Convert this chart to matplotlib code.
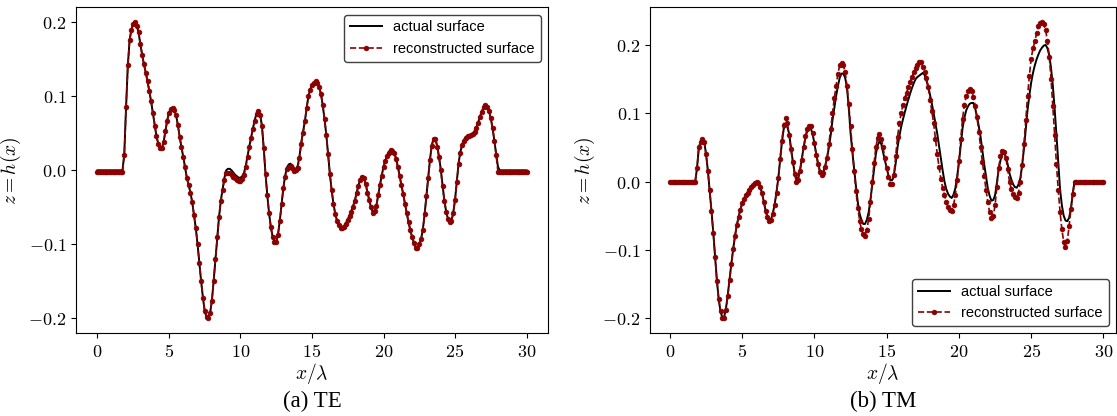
import numpy as np
import matplotlib
matplotlib.use("Agg")
import matplotlib.pyplot as plt
from matplotlib.ticker import FuncFormatter

plt.rcParams["mathtext.fontset"] = "cm"

# sample positions x/lambda (uniform grid, step 1/8)
x_grid = np.arange(0, 30.0001, 0.125)

# one row per unit of x: values at k, k+1/8, ..., k+7/8
te_actual = [
    0, 0, 0, 0, 0, 0, 0, 0,
    0, 0, 0, 0, 0, 0, 0, 0.022,
    0.085, 0.142, 0.176, 0.19, 0.198, 0.2, 0.195, 0.186,
    0.17, 0.156, 0.143, 0.132, 0.12, 0.107, 0.093, 0.077,
    0.06, 0.046, 0.036, 0.03, 0.03, 0.038, 0.053, 0.067,
    0.078, 0.083, 0.084, 0.081, 0.074, 0.061, 0.045, 0.031,
    0.018, 0.004, -0.01, -0.02, -0.03, -0.043, -0.06, -0.078,
    -0.1, -0.125, -0.15, -0.172, -0.19, -0.198, -0.2, -0.193,
    -0.176, -0.149, -0.12, -0.09, -0.063, -0.041, -0.025, -0.01,
    0.0, 0.002, 0.002, 0.0, -0.003, -0.006, -0.008, -0.01,
    -0.01, -0.008, -0.003, 0.007, 0.02, 0.033, 0.045, 0.057,
    0.068, 0.077, 0.081, 0.075, 0.06, 0.03, -0.005, -0.034,
    -0.058, -0.077, -0.09, -0.096, -0.096, -0.086, -0.068, -0.046,
    -0.023, -0.007, 0.004, 0.008, 0.009, 0.005, 0.002, 0.002,
    0.006, 0.019, 0.038, 0.052, 0.066, 0.084, 0.1, 0.109,
    0.115, 0.118, 0.12, 0.118, 0.113, 0.103, 0.088, 0.069,
    0.048, 0.022, -0.005, -0.027, -0.045, -0.059, -0.068, -0.074,
    -0.077, -0.077, -0.075, -0.071, -0.066, -0.061, -0.055, -0.048,
    -0.04, -0.03, -0.02, -0.012, -0.008, -0.01, -0.018, -0.029,
    -0.04, -0.05, -0.057, -0.055, -0.048, -0.034, -0.02, -0.007,
    0.005, 0.013, 0.02, 0.025, 0.028, 0.027, 0.024, 0.016,
    0.005, -0.007, -0.02, -0.032, -0.045, -0.058, -0.07, -0.081,
    -0.09, -0.098, -0.104, -0.104, -0.1, -0.093, -0.08, -0.059,
    -0.035, -0.01, 0.015, 0.034, 0.043, 0.043, 0.033, 0.019,
    0.002, -0.02, -0.04, -0.055, -0.065, -0.069, -0.068, -0.057,
    -0.04, -0.015, 0.01, 0.025, 0.035, 0.041, 0.045, 0.047,
    0.047, 0.048, 0.05, 0.053, 0.058, 0.065, 0.073, 0.08,
    0.085, 0.088, 0.086, 0.08, 0.07, 0.057, 0.04, 0.022,
    0.005, 0, 0, 0, 0, 0, 0, 0,
    0, 0, 0, 0, 0, 0, 0, 0,
    0,
]

te_recon = [
    -0.002, -0.002, -0.002, -0.002, -0.002, -0.002, -0.002, -0.002,
    -0.002, -0.002, -0.002, -0.002, -0.002, -0.002, -0.002, 0.02,
    0.085, 0.142, 0.176, 0.19, 0.198, 0.2, 0.195, 0.186,
    0.17, 0.156, 0.143, 0.132, 0.12, 0.107, 0.093, 0.077,
    0.06, 0.046, 0.036, 0.03, 0.03, 0.038, 0.053, 0.067,
    0.078, 0.083, 0.084, 0.081, 0.074, 0.061, 0.045, 0.031,
    0.018, 0.004, -0.01, -0.02, -0.03, -0.043, -0.06, -0.078,
    -0.1, -0.125, -0.15, -0.172, -0.19, -0.198, -0.2, -0.193,
    -0.176, -0.149, -0.12, -0.09, -0.063, -0.042, -0.027, -0.013,
    -0.004, -0.004, -0.004, -0.006, -0.009, -0.011, -0.013, -0.015,
    -0.015, -0.012, -0.006, 0.004, 0.018, 0.032, 0.044, 0.056,
    0.067, 0.076, 0.08, 0.075, 0.06, 0.03, -0.005, -0.034,
    -0.058, -0.077, -0.09, -0.097, -0.097, -0.087, -0.068, -0.046,
    -0.024, -0.009, 0.002, 0.005, 0.006, 0.003, -0.001, 0.0,
    0.003, 0.017, 0.036, 0.051, 0.066, 0.084, 0.1, 0.109,
    0.115, 0.118, 0.12, 0.118, 0.113, 0.103, 0.088, 0.069,
    0.048, 0.022, -0.005, -0.027, -0.045, -0.059, -0.068, -0.074,
    -0.078, -0.078, -0.076, -0.072, -0.067, -0.062, -0.056, -0.049,
    -0.041, -0.031, -0.021, -0.013, -0.009, -0.011, -0.019, -0.03,
    -0.04, -0.05, -0.057, -0.055, -0.048, -0.034, -0.02, -0.008,
    0.004, 0.012, 0.019, 0.024, 0.027, 0.026, 0.023, 0.015,
    0.004, -0.008, -0.02, -0.032, -0.045, -0.058, -0.07, -0.081,
    -0.09, -0.098, -0.105, -0.105, -0.1, -0.093, -0.08, -0.059,
    -0.035, -0.011, 0.014, 0.033, 0.042, 0.042, 0.032, 0.018,
    0.001, -0.021, -0.041, -0.056, -0.066, -0.07, -0.069, -0.058,
    -0.04, -0.016, 0.009, 0.024, 0.034, 0.04, 0.044, 0.046,
    0.046, 0.047, 0.049, 0.052, 0.057, 0.064, 0.072, 0.079,
    0.085, 0.088, 0.086, 0.08, 0.07, 0.057, 0.04, 0.02,
    -0.002, -0.002, -0.002, -0.002, -0.002, -0.002, -0.002, -0.002,
    -0.002, -0.002, -0.002, -0.002, -0.002, -0.002, -0.002, -0.002,
    -0.002,
]

tm_actual = [
    0, 0, 0, 0, 0, 0, 0, 0,
    0, 0, 0, 0, 0, 0, 0, 0.02,
    0.05, 0.058, 0.062, 0.058, 0.04, 0.016, -0.013, -0.043,
    -0.075, -0.111, -0.145, -0.172, -0.19, -0.199, -0.198, -0.186,
    -0.166, -0.143, -0.12, -0.099, -0.08, -0.064, -0.052, -0.041,
    -0.032, -0.025, -0.02, -0.016, -0.012, -0.008, -0.005, -0.002,
    0.0, -0.002, -0.008, -0.017, -0.03, -0.043, -0.052, -0.057,
    -0.055, -0.046, -0.033, -0.015, 0.005, 0.032, 0.058, 0.077,
    0.084, 0.08, 0.07, 0.05, 0.03, 0.014, 0.004, 0.006,
    0.017, 0.033, 0.05, 0.064, 0.074, 0.079, 0.078, 0.069,
    0.056, 0.04, 0.027, 0.016, 0.012, 0.015, 0.024, 0.035,
    0.05, 0.068, 0.09, 0.108, 0.125, 0.14, 0.152, 0.158,
    0.158, 0.152, 0.138, 0.108, 0.071, 0.043, 0.018, -0.007,
    -0.03, -0.047, -0.056, -0.062, -0.062, -0.056, -0.045, -0.027,
    -0.005, 0.018, 0.04, 0.053, 0.059, 0.055, 0.043, 0.031,
    0.02, 0.009, 0.002, 0.002, 0.01, 0.027, 0.05, 0.066,
    0.08, 0.091, 0.101, 0.111, 0.12, 0.129, 0.137, 0.144,
    0.15, 0.153, 0.155, 0.157, 0.159, 0.156, 0.148, 0.139,
    0.127, 0.114, 0.1, 0.085, 0.07, 0.052, 0.034, 0.016,
    0.0, -0.011, -0.018, -0.022, -0.024, -0.019, -0.01, 0.007,
    0.028, 0.053, 0.078, 0.093, 0.104, 0.11, 0.114, 0.115,
    0.115, 0.107, 0.095, 0.081, 0.065, 0.045, 0.025, 0.007,
    -0.01, -0.021, -0.028, -0.027, -0.02, -0.002, 0.018, 0.031,
    0.04, 0.041, 0.036, 0.025, 0.012, 0.003, -0.004, -0.008,
    -0.009, -0.004, 0.005, 0.024, 0.048, 0.076, 0.105, 0.126,
    0.145, 0.159, 0.17, 0.179, 0.186, 0.192, 0.196, 0.199,
    0.2, 0.195, 0.185, 0.166, 0.14, 0.106, 0.068, 0.027,
    -0.012, -0.035, -0.05, -0.057, -0.058, -0.053, -0.04, -0.018,
    0.0, 0, 0, 0, 0, 0, 0, 0,
    0, 0, 0, 0, 0, 0, 0, 0,
    0,
]

tm_recon = [
    0, 0, 0, 0, 0, 0, 0, 0,
    0, 0, 0, 0, 0, 0, 0, 0.02,
    0.05, 0.058, 0.062, 0.058, 0.04, 0.016, -0.013, -0.043,
    -0.075, -0.111, -0.145, -0.172, -0.19, -0.2, -0.199, -0.188,
    -0.168, -0.144, -0.121, -0.099, -0.08, -0.064, -0.052, -0.041,
    -0.032, -0.025, -0.02, -0.016, -0.012, -0.008, -0.005, -0.002,
    0.0, -0.002, -0.008, -0.017, -0.03, -0.043, -0.052, -0.058,
    -0.056, -0.047, -0.034, -0.016, 0.005, 0.033, 0.06, 0.083,
    0.093, 0.086, 0.068, 0.047, 0.028, 0.011, 0.0, 0.003,
    0.015, 0.032, 0.05, 0.066, 0.077, 0.082, 0.081, 0.071,
    0.056, 0.039, 0.025, 0.014, 0.01, 0.013, 0.022, 0.035,
    0.055, 0.077, 0.1, 0.122, 0.14, 0.158, 0.17, 0.173,
    0.17, 0.16, 0.14, 0.113, 0.081, 0.047, 0.015, -0.014,
    -0.038, -0.057, -0.07, -0.077, -0.079, -0.071, -0.055, -0.03,
    0.0, 0.027, 0.05, 0.064, 0.07, 0.063, 0.05, 0.034,
    0.02, 0.006, -0.003, -0.004, 0.01, 0.037, 0.065, 0.085,
    0.1, 0.112, 0.122, 0.13, 0.138, 0.146, 0.153, 0.16,
    0.166, 0.171, 0.175, 0.175, 0.168, 0.161, 0.152, 0.138,
    0.12, 0.103, 0.085, 0.063, 0.04, 0.021, 0.004, -0.009,
    -0.02, -0.03, -0.037, -0.042, -0.043, -0.035, -0.02, 0.002,
    0.03, 0.062, 0.092, 0.112, 0.125, 0.132, 0.135, 0.132,
    0.124, 0.111, 0.094, 0.073, 0.05, 0.028, 0.008, -0.012,
    -0.03, -0.045, -0.053, -0.05, -0.035, -0.008, 0.02, 0.037,
    0.045, 0.044, 0.035, 0.018, 0.0, -0.011, -0.018, -0.023,
    -0.024, -0.016, 0.0, 0.024, 0.055, 0.09, 0.125, 0.155,
    0.18, 0.195, 0.205, 0.217, 0.227, 0.232, 0.233, 0.23,
    0.222, 0.205, 0.183, 0.15, 0.11, 0.068, 0.025, -0.013,
    -0.045, -0.07, -0.088, -0.096, -0.087, -0.065, -0.04, -0.018,
    0.0, 0, 0, 0, 0, 0, 0, 0,
    0, 0, 0, 0, 0, 0, 0, 0,
    0,
]

panels = [
    ("(a) TE", te_actual, te_recon, "upper right", (-1.5, 31.5), (-0.22, 0.22)),
    ("(b) TM", tm_actual, tm_recon, "lower right", (-1.38, 30.87), (-0.222, 0.255)),
]

W, H = 1117, 416
fig = plt.figure(figsize=(W / 100, H / 100), dpi=100)
boxes = [(76, 548), (650, 1116)]
top, bottom = 7.3, 333.3

tick_fmt = FuncFormatter(lambda v, pos: "$%g$" % v if abs(v) > 1e-9 else "$0$")
ytick_fmt = FuncFormatter(lambda v, pos: "$%.1f$" % (0.0 if abs(v) < 1e-9 else v))

for (caption, actual, recon, loc, xlim, ylim), (x0, x1) in zip(panels, boxes):
    ax = fig.add_axes([x0 / W, (H - bottom) / H, (x1 - x0) / W, (bottom - top) / H])
    ax.plot(x_grid, actual, color="black", lw=1.4, label="actual surface")
    ax.plot(x_grid, recon, color="#8b0000", ls="--", lw=1.2, marker="o",
            markersize=3.3, mew=0.6, label="reconstructed surface")
    ax.set_xlim(*xlim)
    ax.set_ylim(*ylim)
    ax.set_xticks([0, 5, 10, 15, 20, 25, 30])
    ax.set_yticks([-0.2, -0.1, 0.0, 0.1, 0.2])
    ax.xaxis.set_major_formatter(tick_fmt)
    ax.yaxis.set_major_formatter(ytick_fmt)
    ax.tick_params(labelsize=13)
    ax.set_xlabel(r"$x/\lambda$", fontsize=14, labelpad=0)
    ax.set_ylabel(r"$z = h(x)$", fontsize=14, labelpad=4)
    leg = ax.legend(loc=loc, prop={"family": "Liberation Sans", "size": 10.5},
                    edgecolor="0.25", framealpha=1.0, handlelength=2.2)
    leg.get_frame().set_linewidth(1.0)
    fig.text((x0 + x1) / 2 / W, 4 / H, caption, ha="center", va="bottom",
             fontsize=16.5, family="Liberation Serif")

fig.savefig("out.png", dpi=100)
